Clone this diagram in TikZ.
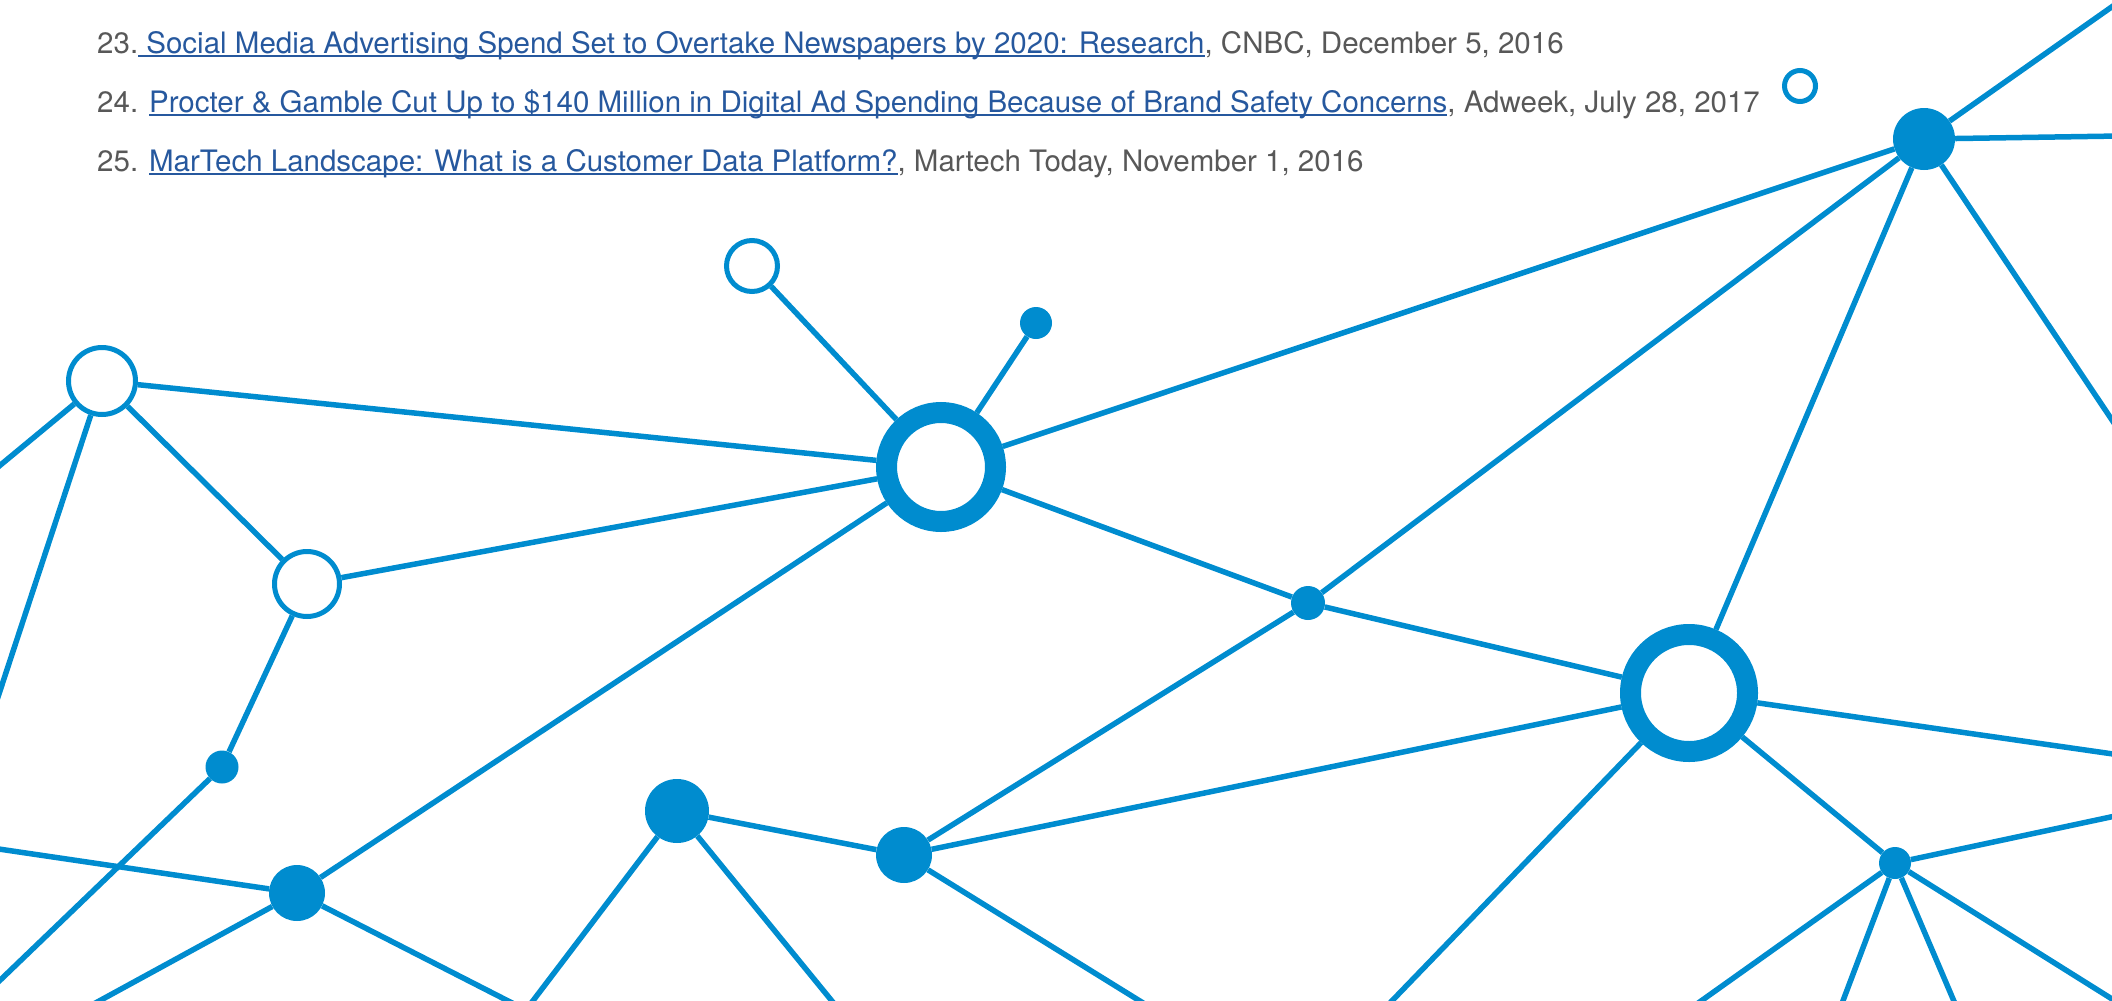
\documentclass[tikz,border=0pt]{standalone}
\usepackage{fontspec}
\setmainfont{TeX Gyre Heros}
\definecolor{netblue}{RGB}{0,140,207}
\definecolor{linkblue}{RGB}{38,88,158}
\definecolor{refgray}{RGB}{88,88,88}
\newsavebox{\linkbox}
\newcommand{\reflink}[1]{\sbox{\linkbox}{\color{linkblue}#1}\rlap{\textcolor{linkblue}{\rule[-4pt]{\wd\linkbox}{2pt}}}\usebox{\linkbox}}
\begin{document}
\begin{tikzpicture}[x=1pt,y=-1pt]
\useasboundingbox (0,0) rectangle (2112,1001);
\clip (0,0) rectangle (2112,1001);
\tikzstyle{ring} = [circle,draw=netblue,fill=white,line width=21pt,inner sep=0pt]
\tikzstyle{opennode} = [circle,draw=netblue,fill=white,line width=5pt,inner sep=0pt]
\tikzstyle{dotnode} = [circle,draw=none,fill=netblue,inner sep=0pt]
\tikzstyle{link} = [draw=netblue,line width=5.5pt]
\tikzstyle{reftext} = [anchor=base west,inner sep=0pt,text=refgray,font=\fontsize{29.5}{36}\selectfont]
%%%%%%%%%%%%%%%%%%%%%%%%%%%%%
% reference list
%%%%%%%%%%%%%%%%%%%%%%%%%%%%%
\node (r23) [reftext] at (97,53){23.\reflink{\ Social Media Advertising Spend Set to Overtake Newspapers by 2020: Research}, CNBC, December 5, 2016};
\node (r24) [reftext] at ([yshift=-59pt]r23.base west){24. \reflink{Procter \& Gamble Cut Up to \$140 Million in Digital Ad Spending Because of Brand Safety Concerns}, Adweek, July 28, 2017};
\node (r25) [reftext] at ([yshift=-59pt]r24.base west){25. \reflink{MarTech Landscape: What is a Customer Data Platform?}, Martech Today, November 1, 2016};
%%%%%%%%%%%%%%%%%%%%%%%%%%%%%
% network nodes
%%%%%%%%%%%%%%%%%%%%%%%%%%%%%
\node (lone) [opennode,minimum size=31pt] at (1800,86){};
\node (n1) [dotnode,minimum size=62pt] at (1924,139){};
\node (hub) [ring,minimum size=109pt] at (941,467){};
\node (g) [ring,minimum size=117pt] at (1689,693){};
\node (a) [opennode,minimum size=67pt] at (102,381){};
\node (b) [opennode,minimum size=65pt] at (307,584){};
\node (t) [opennode,minimum size=51pt] at (752,266){};
\node (u) [dotnode,minimum size=32pt] at (1036,323){};
\node (s) [dotnode,minimum size=33pt] at (222,767){};
\node (c) [dotnode,minimum size=56pt] at (297,893){};
\node (d) [dotnode,minimum size=64pt] at (677,811){};
\node (e) [dotnode,minimum size=56pt] at (904,855){};
\node (f) [dotnode,minimum size=34pt] at (1308,603){};
\node (i) [dotnode,minimum size=32pt] at (1895,863){};
% free ends past the page edge
\coordinate (n1_ne) at (2140,-13);
\coordinate (n1_e) at (2120,136);
\coordinate (n1_se) at (2120,432);
\coordinate (a_w) at (-8,472);
\coordinate (a_sw) at (-3,700);
\coordinate (c_w) at (-8,848);
\coordinate (s_sw) at (-8,988);
\coordinate (c_sw) at (90,1006);
\coordinate (c_se) at (518,1006);
\coordinate (d_sw) at (529,1006);
\coordinate (d_se) at (836,1006);
\coordinate (e_se) at (1148,1006);
\coordinate (g_sw) at (1387,1006);
\coordinate (g_e) at (2120,755);
\coordinate (i_e) at (2120,815);
\coordinate (i_s1) at (1694,1006);
\coordinate (i_s2) at (1841,1006);
\coordinate (i_s3) at (1956,1006);
\coordinate (i_s4) at (2120,1004);
%%%%%%%%%%%%%%%%%%%%%%%%%%%%%
% connectors
%%%%%%%%%%%%%%%%%%%%%%%%%%%%%
\draw [link] (n1) -- (n1_ne);
\draw [link] (n1) -- (n1_e);
\draw [link] (n1) -- (n1_se);
\draw [link] (n1) -- (hub);
\draw [link] (n1) -- (f);
\draw [link] (n1) -- (g);
\draw [link] (hub) -- (t);
\draw [link] (hub) -- (u);
\draw [link] (hub) -- (a);
\draw [link] (hub) -- (b);
\draw [link] (hub) -- (c);
\draw [link] (hub) -- (f);
\draw [link] (a) -- (a_w);
\draw [link] (a) -- (a_sw);
\draw [link] (a) -- (b);
\draw [link] (b) -- (s);
\draw [link] (s) -- (s_sw);
\draw [link] (c_w) -- (c);
\draw [link] (c) -- (c_sw);
\draw [link] (c) -- (c_se);
\draw [link] (d) -- (d_sw);
\draw [link] (d) -- (d_se);
\draw [link] (d) -- (e);
\draw [link] (e) -- (f);
\draw [link] (e) -- (g);
\draw [link] (e) -- (e_se);
\draw [link] (f) -- (g);
\draw [link] (g) -- (g_sw);
\draw [link] (g) -- (g_e);
\draw [link] (g) -- (i);
\draw [link] (i) -- (i_e);
\draw [link] (i) -- (i_s1);
\draw [link] (i) -- (i_s2);
\draw [link] (i) -- (i_s3);
\draw [link] (i) -- (i_s4);
\end{tikzpicture}
\end{document}
